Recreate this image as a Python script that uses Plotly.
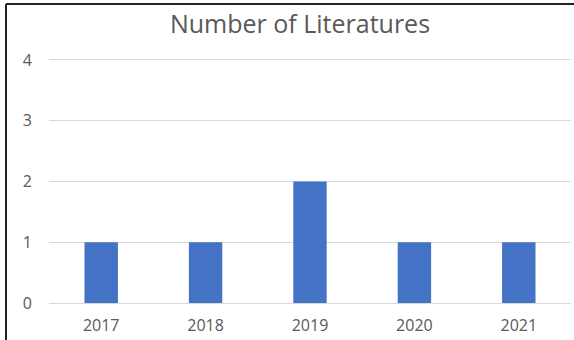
import plotly.graph_objects as go

years = ["2017", "2018", "2019", "2020", "2021"]
counts = [1, 1, 2, 1, 1]
y_ticks = [0, 1, 2, 3, 4]

W, H = 574, 340
ml, mr, mt, mb = 49, 3, 57, 37
pw, ph = W - ml - mr, H - mt - mb

fig = go.Figure(go.Bar(x=years, y=counts, marker_color="#4472C4", marker_line_width=0))

bx = (6 - ml) / pw
by = 1 + (mt - 4) / ph
fig.add_shape(type="line", xref="paper", yref="paper", x0=bx, x1=bx, y0=-1, y1=by,
              line=dict(color="#222222", width=2))
fig.add_shape(type="line", xref="paper", yref="paper", x0=bx, x1=1.2, y0=by, y1=by,
              line=dict(color="#222222", width=2))

fig.update_layout(
    width=W, height=H,
    margin=dict(l=ml, r=mr, t=mt, b=mb),
    paper_bgcolor="white", plot_bgcolor="white",
    bargap=0.68,
    showlegend=False,
    font=dict(family="Open Sans", color="#595959", size=16),
    title=dict(text="Number of Literatures", x=300 / W, xanchor="center",
               y=1 - 24 / H, yanchor="middle",
               font=dict(size=25, color="#595959", family="Open Sans")),
    xaxis=dict(showgrid=False, showline=True, linecolor="#D9D9D9", linewidth=1,
               ticks="", ticklabelstandoff=8, tickfont=dict(size=16)),
    yaxis=dict(range=[0, 4.049], tickvals=y_ticks, showgrid=True, gridcolor="#D9D9D9",
               gridwidth=1, zeroline=False, showline=False, ticks="",
               ticklabelstandoff=16, tickfont=dict(size=16)),
)

fig.write_html("out.html")
